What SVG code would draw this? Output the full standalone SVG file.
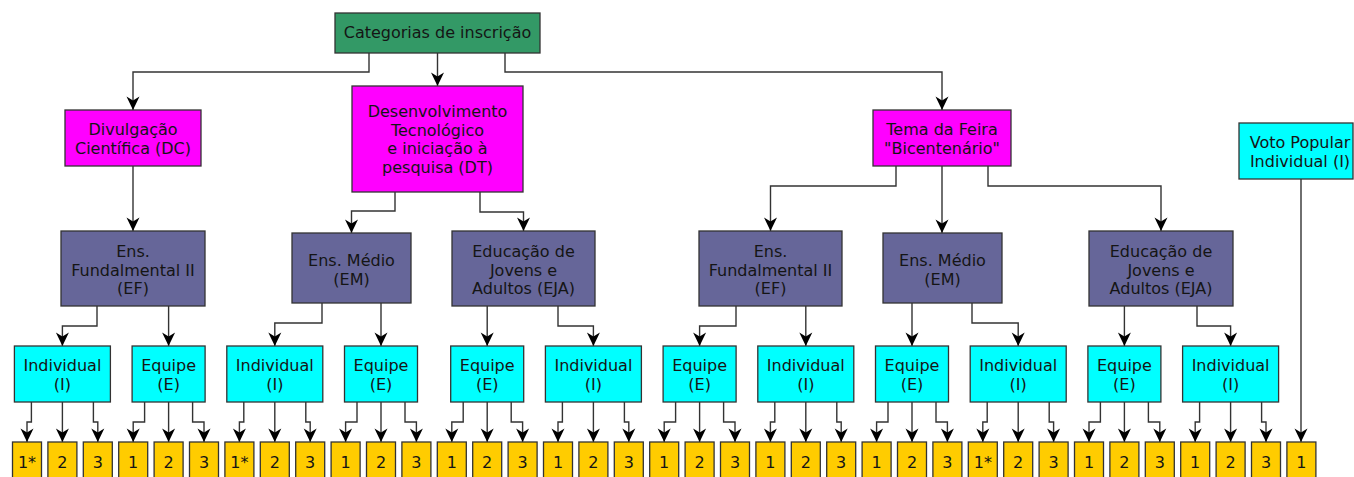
<svg xmlns="http://www.w3.org/2000/svg" width="1354" height="477" viewBox="0 0 1354 477">
<style>
text{font-family:"DejaVu Sans","Liberation Sans",sans-serif;font-size:16px;fill:#151515;text-anchor:middle}
g rect{stroke:#333;stroke-width:1.3}
.root{fill:#339966}
.mag{fill:#ff00ff}
.lvl{fill:#666699}
.cy{fill:#00ffff}
.leaf{fill:#ffcc00}
#connectors path{fill:none;stroke:#333;stroke-width:1.4;marker-end:url(#arr)}
</style>
<defs>
<marker id="arr" viewBox="-15 -8 16 16" refX="0" refY="0" markerWidth="16" markerHeight="16" markerUnits="userSpaceOnUse" orient="auto">
<path d="M0,0 L-13.5,-6.5 L-9.5,0 L-13.5,6.5 Z" fill="#000"/>
</marker>
</defs>

<g id="connectors">
<path d="M369,53 V72 H133 V110"/>
<path d="M437.5,53 V86"/>
<path d="M505,53 V72 H942 V110"/>
<path d="M133,166 V231"/>
<path d="M395,192 V211 H351.5 V233"/>
<path d="M480,192 V212 H523.5 V231"/>
<path d="M896,166 V186 H770.5 V231"/>
<path d="M942,166 V233"/>
<path d="M988,166 V186 H1161 V231"/>
<path d="M1301,179 V442"/>
<path d="M97,306 V326 H62.4 V346"/>
<path d="M168.6,306 V346"/>
<path d="M322,303 V323 H274.8 V346"/>
<path d="M381,303 V346"/>
<path d="M487.2,306 V346"/>
<path d="M558,306 V326 H593.4 V346"/>
<path d="M736,306 V326 H699.6 V346"/>
<path d="M805.8,306 V346"/>
<path d="M912,303 V346"/>
<path d="M972,303 V323 H1018.2 V346"/>
<path d="M1124.4,306 V346"/>
<path d="M1197,306 V326 H1230.6 V346"/>
<path d="M31.4,402 V422 H27 V442"/><path d="M62.4,402 V442"/><path d="M93.4,402 V422 H97.8 V442"/>
<path d="M144.6,402 V422 H133.2 V442"/><path d="M168.6,402 V442"/><path d="M192.6,402 V422 H204 V442"/>
<path d="M243.8,402 V422 H239.4 V442"/><path d="M274.8,402 V442"/><path d="M305.8,402 V422 H310.2 V442"/>
<path d="M357,402 V422 H345.6 V442"/><path d="M381,402 V442"/><path d="M405,402 V422 H416.4 V442"/>
<path d="M463.2,402 V422 H451.8 V442"/><path d="M487.2,402 V442"/><path d="M511.2,402 V422 H522.6 V442"/>
<path d="M562.4,402 V422 H558 V442"/><path d="M593.4,402 V442"/><path d="M624.4,402 V422 H628.8 V442"/>
<path d="M675.6,402 V422 H664.2 V442"/><path d="M699.6,402 V442"/><path d="M723.6,402 V422 H735 V442"/>
<path d="M774.8,402 V422 H770.4 V442"/><path d="M805.8,402 V442"/><path d="M836.8,402 V422 H841.2 V442"/>
<path d="M888,402 V422 H876.6 V442"/><path d="M912,402 V442"/><path d="M936,402 V422 H947.4 V442"/>
<path d="M987.2,402 V422 H982.8 V442"/><path d="M1018.2,402 V442"/><path d="M1049.2,402 V422 H1053.6 V442"/>
<path d="M1100.4,402 V422 H1089 V442"/><path d="M1124.4,402 V442"/><path d="M1148.4,402 V422 H1159.8 V442"/>
<path d="M1199.6,402 V422 H1195.2 V442"/><path d="M1230.6,402 V442"/><path d="M1261.6,402 V422 H1266 V442"/>
</g>

<g id="root"><rect class="root" x="335" y="13" width="205" height="40"/><text x="437.5" y="38">Categorias de inscrição</text></g>
<g id="dc"><rect class="mag" x="65" y="110" width="136" height="56"/><text x="133" y="135">Divulgação</text><text x="133" y="154">Científica (DC)</text></g>
<g id="dt"><rect class="mag" x="352" y="86" width="171" height="106"/><text x="437.5" y="117">Desenvolvimento</text><text x="437.5" y="135.7">Tecnológico</text><text x="437.5" y="154.4">e iniciação à</text><text x="437.5" y="173">pesquisa (DT)</text></g>
<g id="tema"><rect class="mag" x="873" y="110" width="138" height="56"/><text x="942" y="135">Tema da Feira</text><text x="942" y="154">"Bicentenário"</text></g>
<g id="voto"><rect class="cy" x="1239" y="123" width="114" height="56"/><text x="1300" y="148">Voto Popular</text><text x="1300" y="167">Individual (I)</text></g>

<g id="ef1"><rect class="lvl" x="61" y="231" width="144" height="75"/><text x="133" y="257">Ens.</text><text x="133" y="275.5">Fundalmental II</text><text x="133" y="294">(EF)</text></g>
<g id="em1"><rect class="lvl" x="292" y="233" width="119" height="70"/><text x="351.5" y="266">Ens. Médio</text><text x="351.5" y="284.5">(EM)</text></g>
<g id="eja1"><rect class="lvl" x="452" y="231" width="143" height="75"/><text x="523.5" y="257">Educação de</text><text x="523.5" y="275.5">Jovens e</text><text x="523.5" y="294">Adultos (EJA)</text></g>
<g id="ef2"><rect class="lvl" x="699" y="231" width="143" height="75"/><text x="770.5" y="257">Ens.</text><text x="770.5" y="275.5">Fundalmental II</text><text x="770.5" y="294">(EF)</text></g>
<g id="em2"><rect class="lvl" x="883" y="233" width="119" height="70"/><text x="942.5" y="266">Ens. Médio</text><text x="942.5" y="284.5">(EM)</text></g>
<g id="eja2"><rect class="lvl" x="1089" y="231" width="144" height="75"/><text x="1161" y="257">Educação de</text><text x="1161" y="275.5">Jovens e</text><text x="1161" y="294">Adultos (EJA)</text></g>

<g id="c0"><rect class="cy" x="14.4" y="346" width="96" height="56"/><text x="62.4" y="371">Individual</text><text x="62.4" y="389.5">(I)</text></g>
<g id="c1"><rect class="cy" x="132.1" y="346" width="73" height="56"/><text x="168.6" y="371">Equipe</text><text x="168.6" y="389.5">(E)</text></g>
<g id="c2"><rect class="cy" x="226.8" y="346" width="96" height="56"/><text x="274.8" y="371">Individual</text><text x="274.8" y="389.5">(I)</text></g>
<g id="c3"><rect class="cy" x="344.5" y="346" width="73" height="56"/><text x="381" y="371">Equipe</text><text x="381" y="389.5">(E)</text></g>
<g id="c4"><rect class="cy" x="450.7" y="346" width="73" height="56"/><text x="487.2" y="371">Equipe</text><text x="487.2" y="389.5">(E)</text></g>
<g id="c5"><rect class="cy" x="545.4" y="346" width="96" height="56"/><text x="593.4" y="371">Individual</text><text x="593.4" y="389.5">(I)</text></g>
<g id="c6"><rect class="cy" x="663.1" y="346" width="73" height="56"/><text x="699.6" y="371">Equipe</text><text x="699.6" y="389.5">(E)</text></g>
<g id="c7"><rect class="cy" x="757.8" y="346" width="96" height="56"/><text x="805.8" y="371">Individual</text><text x="805.8" y="389.5">(I)</text></g>
<g id="c8"><rect class="cy" x="875.5" y="346" width="73" height="56"/><text x="912" y="371">Equipe</text><text x="912" y="389.5">(E)</text></g>
<g id="c9"><rect class="cy" x="970.2" y="346" width="96" height="56"/><text x="1018.2" y="371">Individual</text><text x="1018.2" y="389.5">(I)</text></g>
<g id="c10"><rect class="cy" x="1087.9" y="346" width="73" height="56"/><text x="1124.4" y="371">Equipe</text><text x="1124.4" y="389.5">(E)</text></g>
<g id="c11"><rect class="cy" x="1182.6" y="346" width="96" height="56"/><text x="1230.6" y="371">Individual</text><text x="1230.6" y="389.5">(I)</text></g>

<g id="leaves">
<g id="l0"><rect class="leaf" x="12.5" y="442" width="29" height="45"/><text x="27" y="468">1*</text></g>
<g id="l1"><rect class="leaf" x="47.9" y="442" width="29" height="45"/><text x="62.4" y="468">2</text></g>
<g id="l2"><rect class="leaf" x="83.3" y="442" width="29" height="45"/><text x="97.8" y="468">3</text></g>
<g id="l3"><rect class="leaf" x="118.7" y="442" width="29" height="45"/><text x="133.2" y="468">1</text></g>
<g id="l4"><rect class="leaf" x="154.1" y="442" width="29" height="45"/><text x="168.6" y="468">2</text></g>
<g id="l5"><rect class="leaf" x="189.5" y="442" width="29" height="45"/><text x="204" y="468">3</text></g>
<g id="l6"><rect class="leaf" x="224.9" y="442" width="29" height="45"/><text x="239.4" y="468">1*</text></g>
<g id="l7"><rect class="leaf" x="260.3" y="442" width="29" height="45"/><text x="274.8" y="468">2</text></g>
<g id="l8"><rect class="leaf" x="295.7" y="442" width="29" height="45"/><text x="310.2" y="468">3</text></g>
<g id="l9"><rect class="leaf" x="331.1" y="442" width="29" height="45"/><text x="345.6" y="468">1</text></g>
<g id="l10"><rect class="leaf" x="366.5" y="442" width="29" height="45"/><text x="381" y="468">2</text></g>
<g id="l11"><rect class="leaf" x="401.9" y="442" width="29" height="45"/><text x="416.4" y="468">3</text></g>
<g id="l12"><rect class="leaf" x="437.3" y="442" width="29" height="45"/><text x="451.8" y="468">1</text></g>
<g id="l13"><rect class="leaf" x="472.7" y="442" width="29" height="45"/><text x="487.2" y="468">2</text></g>
<g id="l14"><rect class="leaf" x="508.1" y="442" width="29" height="45"/><text x="522.6" y="468">3</text></g>
<g id="l15"><rect class="leaf" x="543.5" y="442" width="29" height="45"/><text x="558" y="468">1</text></g>
<g id="l16"><rect class="leaf" x="578.9" y="442" width="29" height="45"/><text x="593.4" y="468">2</text></g>
<g id="l17"><rect class="leaf" x="614.3" y="442" width="29" height="45"/><text x="628.8" y="468">3</text></g>
<g id="l18"><rect class="leaf" x="649.7" y="442" width="29" height="45"/><text x="664.2" y="468">1</text></g>
<g id="l19"><rect class="leaf" x="685.1" y="442" width="29" height="45"/><text x="699.6" y="468">2</text></g>
<g id="l20"><rect class="leaf" x="720.5" y="442" width="29" height="45"/><text x="735" y="468">3</text></g>
<g id="l21"><rect class="leaf" x="755.9" y="442" width="29" height="45"/><text x="770.4" y="468">1</text></g>
<g id="l22"><rect class="leaf" x="791.3" y="442" width="29" height="45"/><text x="805.8" y="468">2</text></g>
<g id="l23"><rect class="leaf" x="826.7" y="442" width="29" height="45"/><text x="841.2" y="468">3</text></g>
<g id="l24"><rect class="leaf" x="862.1" y="442" width="29" height="45"/><text x="876.6" y="468">1</text></g>
<g id="l25"><rect class="leaf" x="897.5" y="442" width="29" height="45"/><text x="912" y="468">2</text></g>
<g id="l26"><rect class="leaf" x="932.9" y="442" width="29" height="45"/><text x="947.4" y="468">3</text></g>
<g id="l27"><rect class="leaf" x="968.3" y="442" width="29" height="45"/><text x="982.8" y="468">1*</text></g>
<g id="l28"><rect class="leaf" x="1003.7" y="442" width="29" height="45"/><text x="1018.2" y="468">2</text></g>
<g id="l29"><rect class="leaf" x="1039.1" y="442" width="29" height="45"/><text x="1053.6" y="468">3</text></g>
<g id="l30"><rect class="leaf" x="1074.5" y="442" width="29" height="45"/><text x="1089" y="468">1</text></g>
<g id="l31"><rect class="leaf" x="1109.9" y="442" width="29" height="45"/><text x="1124.4" y="468">2</text></g>
<g id="l32"><rect class="leaf" x="1145.3" y="442" width="29" height="45"/><text x="1159.8" y="468">3</text></g>
<g id="l33"><rect class="leaf" x="1180.7" y="442" width="29" height="45"/><text x="1195.2" y="468">1</text></g>
<g id="l34"><rect class="leaf" x="1216.1" y="442" width="29" height="45"/><text x="1230.6" y="468">2</text></g>
<g id="l35"><rect class="leaf" x="1251.5" y="442" width="29" height="45"/><text x="1266" y="468">3</text></g>
<g id="l36"><rect class="leaf" x="1286.9" y="442" width="29" height="45"/><text x="1301.4" y="468">1</text></g>
</g>
</svg>
